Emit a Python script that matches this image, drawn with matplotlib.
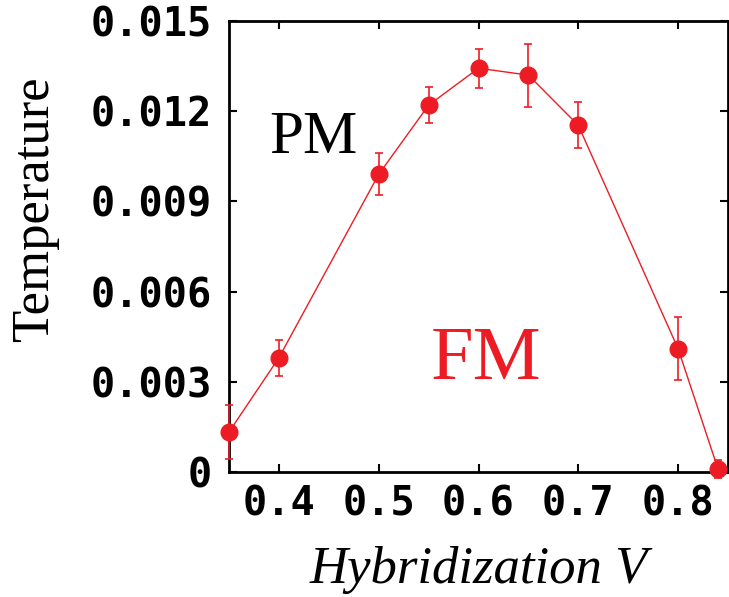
import matplotlib
matplotlib.use("Agg")
import matplotlib.pyplot as plt

# datos
hibridizacion = [0.35, 0.40, 0.50, 0.55, 0.60, 0.65, 0.70, 0.80, 0.84]
temperatura = [0.00133, 0.0038, 0.0099, 0.0122, 0.01343, 0.0132, 0.01153, 0.0041, 0.0001]
error = [0.0009, 0.0006, 0.0007, 0.0006, 0.00065, 0.00105, 0.00077, 0.00105, 0.0003]

xticks = [0.4, 0.5, 0.6, 0.7, 0.8]
yticks = [0, 0.003, 0.006, 0.009, 0.012, 0.015]
ytick_labels = ["0", "0.003", "0.006", "0.009", "0.012", "0.015"]

rojo = "#ED1C24"

fig = plt.figure(figsize=(7.29, 5.97), dpi=100)
ax = fig.add_axes([229 / 729, 1 - 472 / 597, 499 / 729, 451 / 597])

ax.errorbar(hibridizacion, temperatura, yerr=error, color=rojo, lw=1,
            marker="o", ms=12, capsize=3, elinewidth=1.2, capthick=1.2,
            clip_on=False, zorder=3)

ax.set_xlim(0.35, 0.85)
ax.set_ylim(0, 0.015)
ax.set_xticks(xticks)
ax.set_xticklabels([str(t) for t in xticks])
ax.set_yticks(yticks)
ax.set_yticklabels(ytick_labels)

for s in ax.spines.values():
    s.set_linewidth(2)

ax.tick_params(direction="in", length=6, width=1.5, top=True, right=True,
               labelsize=29, pad=12)
for lab in ax.get_xticklabels() + ax.get_yticklabels():
    lab.set_family("DejaVu Sans Mono")
    lab.set_fontweight("bold")
ax.tick_params(axis="x", pad=9)

ax.set_ylabel("Temperature", family="Liberation Serif", fontsize=38)
ax.yaxis.set_label_coords(-0.34, 0.583)
ax.set_xlabel("Hybridization V", family="Liberation Serif", style="italic",
              fontsize=38, labelpad=16)

ax.text(0.435, 0.0111, "PM", family="Liberation Serif", fontsize=44,
        ha="center", va="center", color="black")
ax.text(0.608, 0.0037, "FM", family="Liberation Serif", fontsize=55,
        ha="center", va="center", color=rojo)

fig.savefig("out.png", dpi=100)
